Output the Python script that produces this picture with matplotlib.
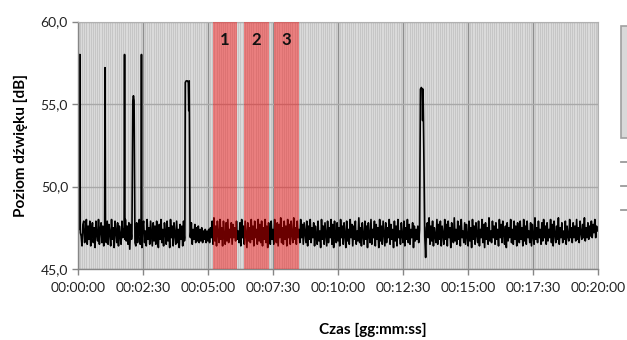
import numpy as np
import matplotlib
matplotlib.use("Agg")
import matplotlib.pyplot as plt
from matplotlib.ticker import FuncFormatter, MultipleLocator
from matplotlib.patches import Rectangle
from matplotlib.lines import Line2D

# Background noise level sampled every 2 s, 00:00:00 .. 00:20:00 [dB]
step_s = 2
baseline_db = [
    47.3, 47.9, 46.5, 47.8, 47.0, 46.4, 47.7, 47.9, 46.6, 47.2, 48.0, 46.5, 47.6, 46.8, 47.9, 46.4, 47.3, 47.8, 46.6, 47.5, 46.3, 47.9, 47.1, 46.7, 48.0, 46.5, 47.4, 47.8, 46.6, 47.6,
    46.4, 47.8, 47.0, 46.6, 47.9, 46.5, 47.7, 47.2, 46.4, 48.0, 46.8, 47.5, 46.3, 47.9, 47.3, 46.6, 47.8, 46.4, 47.6, 47.0, 46.5, 47.9, 46.9, 47.4, 46.3, 48.0, 46.7, 47.6, 46.5, 47.8,
    46.2, 47.7, 46.8, 47.5, 46.3, 47.9, 46.9, 46.4, 47.8, 46.6, 47.2, 48.0, 46.5, 47.7, 46.3, 47.6, 47.9, 46.6, 47.3, 46.4, 48.0, 46.8, 47.5, 46.5, 47.9, 47.1, 46.4, 47.8, 46.7, 47.6,
    46.5, 47.9, 47.0, 46.3, 47.7, 46.8, 48.0, 46.6, 47.4, 46.4, 47.8, 47.2, 46.5, 47.9, 46.7, 47.5, 46.3, 48.0, 46.9, 47.6, 46.4, 47.8, 47.1, 46.5, 47.9, 46.6, 47.4, 46.3, 47.7, 46.8,
    47.6, 46.4, 47.9, 46.7, 47.5, 46.5, 47.8, 47.0, 46.4, 47.6, 46.9, 47.8, 46.5, 47.4, 46.8, 47.7, 46.6, 47.5, 46.7, 47.6, 46.6, 47.4, 46.7, 47.5, 46.6, 47.3, 46.8, 47.4, 46.6, 47.3,
    46.7, 47.4, 46.6, 47.5, 46.9, 47.9, 46.5, 48.1, 46.7, 47.6, 46.4, 47.9, 47.1, 46.6, 48.0, 46.8, 47.5, 46.4, 47.9, 47.0, 46.5, 47.8, 46.7, 48.0, 46.6, 47.4, 46.9, 47.8, 46.5, 47.7,
    46.9, 47.5, 46.7, 47.9, 46.8, 47.3, 46.6, 47.8, 46.4, 48.0, 46.9, 47.6, 46.5, 47.9, 47.1, 46.3, 47.8, 46.7, 47.5, 46.6, 48.0, 46.8, 47.6, 46.4, 47.9, 46.9, 47.4, 46.5, 48.0, 46.7,
    47.7, 46.6, 47.9, 46.4, 47.5, 46.8, 48.0, 46.6, 47.6, 46.3, 47.8, 47.0, 46.5, 47.9, 46.8, 47.4, 46.5, 48.0, 47.0, 46.6, 47.8, 46.4, 47.7, 46.9, 48.1, 46.6, 47.5, 46.5, 47.9, 46.8,
    47.6, 46.4, 48.0, 46.9, 47.7, 46.5, 47.9, 47.1, 46.6, 48.1, 46.8, 47.5, 46.5, 47.9, 46.9, 47.4, 46.6, 48.0, 46.9, 47.7, 46.5, 47.8, 47.2, 46.6, 47.9, 46.4, 47.6, 46.8, 48.0, 46.6,
    47.5, 46.9, 47.8, 46.4, 47.6, 47.0, 46.5, 47.9, 46.7, 47.3, 46.3, 48.0, 46.8, 47.6, 46.5, 47.8, 47.1, 46.4, 47.9, 46.6, 47.5, 46.9, 48.0, 46.5, 47.7, 46.3, 47.9, 47.0, 46.6, 47.8,
    46.7, 47.5, 46.4, 48.0, 46.9, 47.6, 46.5, 47.8, 47.1, 46.3, 47.9, 46.7, 47.4, 46.5, 48.0, 46.9, 47.7, 46.4, 47.6, 46.8, 47.9, 46.5, 47.3, 46.7, 48.1, 46.6, 47.5, 46.4, 47.8, 47.0,
    46.5, 47.9, 46.8, 47.6, 46.3, 47.8, 47.0, 46.6, 48.0, 46.5, 47.4, 46.9, 47.9, 46.4, 47.7, 46.8, 47.5, 46.3, 48.0, 46.7, 47.6, 46.5, 47.9, 47.1, 46.4, 47.8, 46.6, 47.5, 46.9, 48.0,
    46.5, 47.7, 46.8, 47.4, 46.3, 47.9, 46.7, 47.6, 46.4, 48.0, 46.9, 47.3, 46.5, 47.8, 47.0, 46.6, 47.9, 46.4, 47.5, 46.8, 48.0, 46.6, 47.7, 46.5, 47.4, 46.9, 47.8, 46.3, 47.6, 46.7,
    47.4, 46.8, 47.6, 46.6, 47.5, 46.9, 47.3, 46.5, 47.2, 46.8, 47.5, 46.6, 46.3, 47.8, 46.9, 48.1, 46.5, 47.6, 46.7, 47.9, 46.4, 47.5, 47.0, 46.6, 48.0, 46.5, 47.7, 46.8, 47.9, 46.4,
    47.6, 47.1, 46.5, 48.0, 46.8, 47.7, 46.4, 47.9, 46.9, 47.5, 46.3, 47.8, 47.0, 46.6, 48.1, 46.7, 47.4, 46.5, 47.9, 46.8, 47.6, 46.4, 48.0, 46.9, 47.3, 46.6, 47.8, 46.5, 47.7, 47.0,
    46.4, 47.9, 46.7, 47.5, 46.3, 48.0, 46.8, 47.6, 46.5, 47.8, 47.1, 46.6, 47.9, 46.4, 47.4, 46.9, 48.0, 46.6, 47.7, 46.3, 47.8, 46.8, 47.5, 46.5, 48.1, 46.7, 47.3, 46.6, 47.9, 46.9,
    47.6, 46.5, 47.8, 46.8, 47.4, 46.4, 48.0, 46.9, 47.7, 46.6, 47.9, 47.1, 46.5, 47.6, 46.3, 47.8, 46.7, 47.5, 46.9, 48.0, 46.6, 47.4, 46.5, 47.9, 46.8, 47.6, 46.4, 47.8, 47.0, 46.6,
    47.9, 46.8, 47.5, 46.4, 48.0, 46.7, 47.6, 46.5, 47.9, 46.9, 47.3, 46.6, 47.8, 46.4, 47.7, 47.0, 46.5, 48.1, 46.8, 47.5, 46.6, 47.9, 46.9, 47.4, 46.5, 47.8, 46.7, 48.0, 46.9, 47.6,
    46.5, 47.8, 46.7, 47.4, 46.9, 48.0, 46.6, 47.7, 46.4, 47.9, 47.1, 46.6, 47.6, 46.8, 48.1, 46.5, 47.5, 46.9, 47.8, 46.6, 47.3, 46.8, 47.9, 46.5, 47.6, 47.0, 46.7, 48.0, 46.9, 47.5,
    46.6, 47.8, 46.9, 47.6, 46.7, 48.0, 46.8, 47.5, 46.6, 47.9, 47.2, 46.8, 47.7, 46.9, 48.1, 46.7, 47.5, 46.9, 47.8, 46.8, 47.6, 47.0, 47.9, 46.9, 47.7, 47.2, 48.0, 46.9, 47.6, 47.3,
    47.5,
]

# Short noise events: times [s] and levels [dB]
event_times = [
    [4.0, 5.0, 6.0],
    [62.0, 63.0, 64.0],
    [107.0, 108.0, 109.0],
    [125.0, 127.0, 128.5, 130.0, 132.0],
    [146.0, 147.0, 148.0],
    [247.0, 248.0, 250.0, 253.0, 255.0, 256.0, 257.0, 257.5, 259.0],
    [788.0, 790.0, 792.0, 794.0, 795.0, 796.0, 797.0, 800.0, 802.0, 804.0],
]
event_levels = [
    [47.4, 58.0, 47.2],
    [46.9, 57.2, 47.0],
    [47.3, 58.0, 46.8],
    [47.0, 55.2, 55.5, 55.2, 46.6],
    [47.1, 58.0, 46.3],
    [46.9, 56.3, 56.4, 56.4, 56.3, 54.6, 56.4, 54.5, 47.0],
    [47.4, 55.9, 56.0, 55.9, 54.0, 55.9, 54.0, 47.0, 45.7, 47.5],
]

# Measurement intervals [s] and their labels
interval_labels = ["1", "2", "3"]
interval_start = [311, 383, 452]
interval_end = [368, 440, 510]

t_base = np.arange(len(baseline_db)) * step_s
level_base = np.array(baseline_db)
keep = np.ones_like(t_base, dtype=bool)
for ts in event_times:
    keep &= ~((t_base >= ts[0]) & (t_base <= ts[-1]))
t_all = np.concatenate([t_base[keep]] + [np.array(ts) for ts in event_times])
l_all = np.concatenate([level_base[keep]] + [np.array(ls) for ls in event_levels])
order = np.argsort(t_all, kind="stable")
t_all, l_all = t_all[order], l_all[order]

plt.rcParams["font.family"] = ["Lato", "DejaVu Sans"]

fig = plt.figure(figsize=(6.27, 3.40), dpi=100)
ax = fig.add_axes([77.7 / 627, 1 - 269 / 340, (598.3 - 77.7) / 627, (269 - 21.5) / 340])
ax.set_facecolor("#dadada")

ax.set_xlim(0, 1200)
ax.set_ylim(45, 60)
ax.xaxis.set_major_locator(MultipleLocator(150))
ax.xaxis.set_minor_locator(MultipleLocator(5))
ax.yaxis.set_major_locator(MultipleLocator(5))

ax.grid(which="minor", axis="x", color="#c6c6c6", linewidth=0.7, zorder=0)
ax.grid(which="major", axis="x", color="#8e8e8e", linewidth=1.0, zorder=0)
ax.grid(which="major", axis="y", color="#a8a8a8", linewidth=1.0, zorder=0)
ax.set_axisbelow(True)

ax.plot(t_all, l_all, color="black", linewidth=1.2, zorder=2)

for lab, a, b in zip(interval_labels, interval_start, interval_end):
    ax.axvspan(a, b, color="#ff0000", alpha=0.42, linewidth=0, zorder=3)
    ax.text((a + b) / 2, 58.85, lab, ha="center", va="center", fontsize=12,
            fontweight="bold", color="#111111", zorder=4)


def hms(x, pos):
    s = int(round(x))
    return f"{s // 3600:02d}:{(s % 3600) // 60:02d}:{s % 60:02d}"


ax.xaxis.set_major_formatter(FuncFormatter(hms))
ax.yaxis.set_major_formatter(FuncFormatter(lambda v, p: f"{v:.1f}".replace(".", ",")))
ax.tick_params(axis="both", which="major", direction="out", length=4, width=1,
               color="#868686", labelsize=10, labelcolor="#222222")
ax.tick_params(axis="x", which="minor", length=0)
ax.tick_params(axis="x", pad=5)
ax.tick_params(axis="y", pad=3)

for side in ["left", "bottom"]:
    ax.spines[side].set_color("#868686")
    ax.spines[side].set_linewidth(1.0)
for side in ["top", "right"]:
    ax.spines[side].set_color("#b0b0b0")
    ax.spines[side].set_linewidth(0.8)

ax.set_ylabel("Poziom dźwięku [dB]", fontsize=11, fontweight="bold", labelpad=9)
fig.text(373 / 627, 1 - 330 / 340, "Czas [gg:mm:ss]", ha="center", va="center",
         fontsize=11, fontweight="bold")

# Legend box at the right edge of the chart area
def px(x, y):
    return x / 627, 1 - y / 340

x0, y0 = px(621, 137.7)
x1, y1 = px(640, 25.7)
fig.add_artist(Rectangle((x0, y0), x1 - x0, y1 - y0, transform=fig.transFigure,
                         facecolor="#d9d9d9", edgecolor="#a0a0a0", linewidth=1.2))
for yy in [161.7, 185.7, 210.0]:
    xa, ya = px(621, yy)
    xb, _ = px(627, yy)
    fig.add_artist(Line2D([xa, xb], [ya, ya], transform=fig.transFigure,
                          color="#9a9a9a", linewidth=1.3))

fig.savefig("out.png", dpi=100)
